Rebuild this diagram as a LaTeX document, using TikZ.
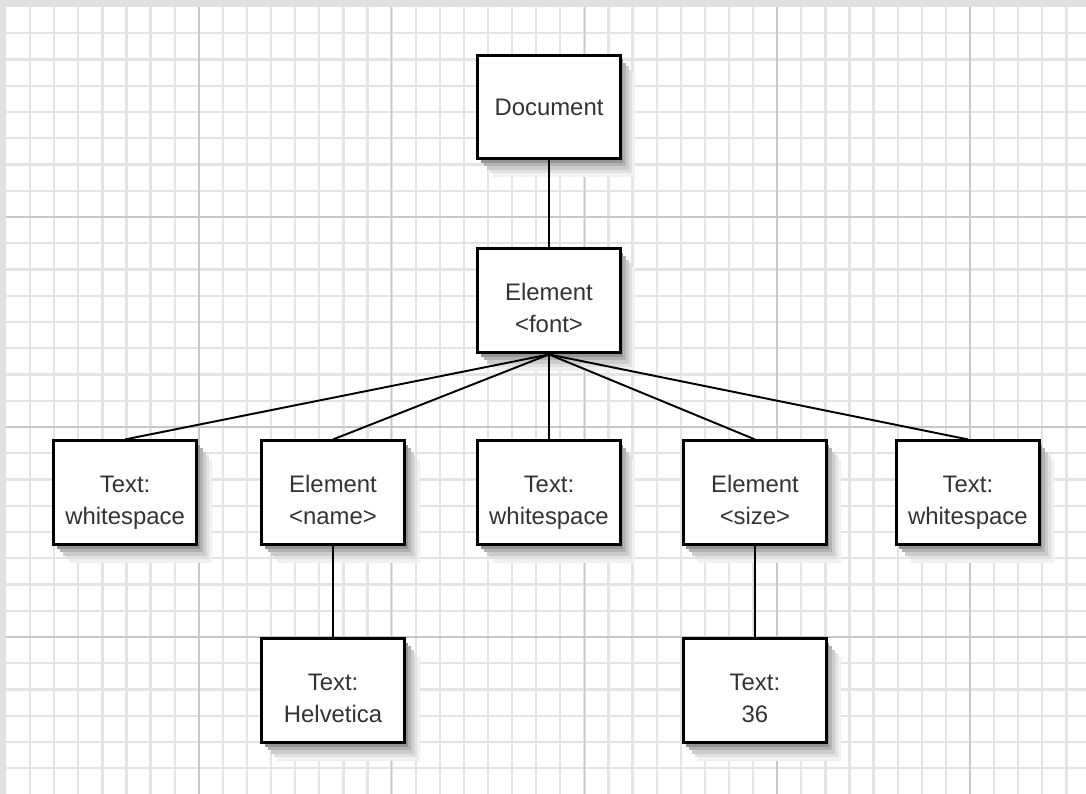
\documentclass[tikz,border=0pt]{standalone}
\usepackage{fontspec}
\setmainfont{Liberation Sans}
\usepackage{xcolor}
\usepackage{tikz}
\usetikzlibrary{positioning,shadows}

\definecolor{gridminor}{HTML}{E4E4E4}
\definecolor{gridmajor}{HTML}{C8C8C8}

\tikzset{
  box/.style={draw, rectangle, align=center, fill=white, line width=1.7pt,
    minimum width=2.86cm, minimum height=2.08cm, text=black!80,
    font=\fontsize{13.6}{18.2}\selectfont,
    text height=35.5pt, text depth=0pt,
    general shadow={shadow xshift=0.3cm, shadow yshift=-0.36cm, fill=black!6},
    general shadow={shadow xshift=0.24cm, shadow yshift=-0.29cm, fill=black!12},
    general shadow={shadow xshift=0.18cm, shadow yshift=-0.22cm, fill=black!20},
    general shadow={shadow xshift=0.12cm, shadow yshift=-0.15cm, fill=black!30},
    general shadow={shadow xshift=0.06cm, shadow yshift=-0.08cm, fill=black!42}},
  link/.style={line width=1.1pt},
  minor/.style={gridminor, line width=1.3pt},
  major/.style={gridmajor, line width=0.9pt}
}

\begin{document}
\begin{tikzpicture}[x=0.02cm, y=-0.02cm]
    \useasboundingbox (0,0) rectangle (1086,794);

    % Paper and grid
    \fill[black!12] (0,0) rectangle (1086,794);
    \fill[white] (6,7) rectangle (1086,794);
    \foreach \i in {1,...,44}
      \draw[minor] ({6+24.1*\i},7) -- ({6+24.1*\i},794);
    \foreach \j in {1,...,29}
      \draw[minor] (6,{7+26.25*\j}) -- (1086,{7+26.25*\j});
    \foreach \i in {8,16,...,40}
      \draw[major] ({6+24.1*\i},7) -- ({6+24.1*\i},794);
    \foreach \j in {8,16,24}
      \draw[major] (6,{7+26.25*\j}) -- (1086,{7+26.25*\j});

    % Root
    \node [box, text height=9.8pt] (doc) at (549,107) {Document};
    \node [box, below=1.74cm of doc] (font) {Element\\<font>};

    % Children of font
    \node [box, below=1.7cm of font] (ws2) {Text:\\whitespace};
    \node [box, left=1.4cm of ws2] (name) {Element\\<name>};
    \node [box, left=1.24cm of name] (ws1) {Text:\\whitespace};
    \node [box, right=1.2cm of ws2] (size) {Element\\<size>};
    \node [box, right=1.34cm of size] (ws3) {Text:\\whitespace};

    % Leaves
    \node [box, below=1.82cm of name] (helv) {Text:\\Helvetica};
    \node [box, below=1.82cm of size] (num) {Text:\\36};

    % Lines
    \draw[link] (doc) -- (font);
    \foreach \n in {ws1,name,ws2,size,ws3}
      \draw[link] (font.south) -- (\n.north);
    \draw[link] (name) -- (helv);
    \draw[link] (size) -- (num);
\end{tikzpicture}
\end{document}
